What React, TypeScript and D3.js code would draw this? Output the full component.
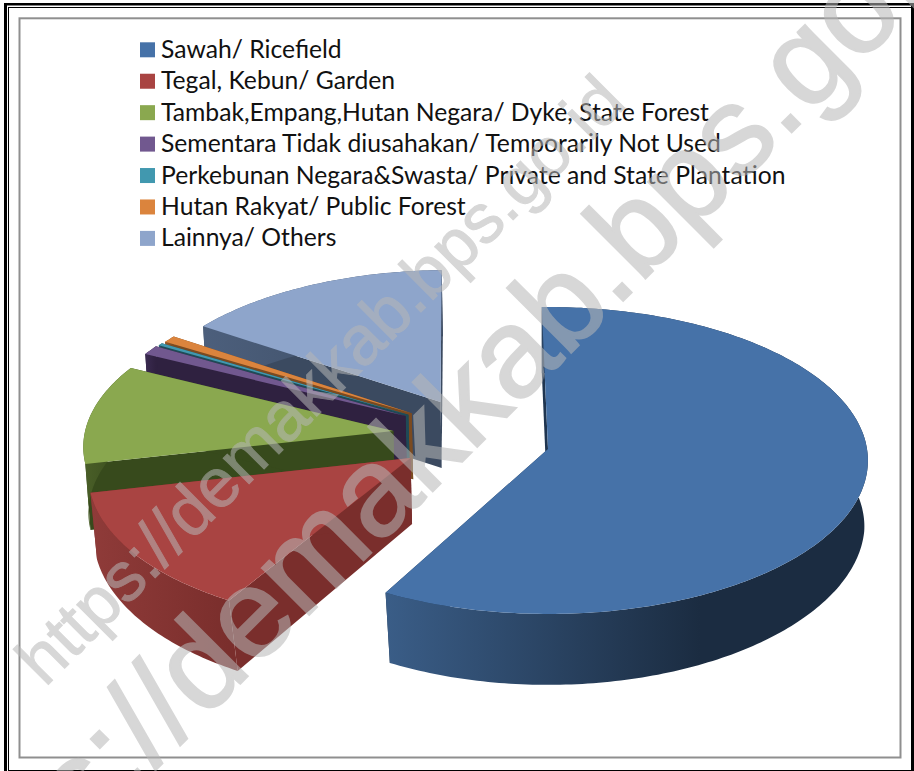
import React from "react";
import * as d3 from "d3";

const categories = [
  "Sawah/ Ricefield",
  "Tegal, Kebun/ Garden",
  "Tambak,Empang,Hutan Negara/ Dyke, State Forest",
  "Sementara Tidak diusahakan/ Temporarily Not Used",
  "Perkebunan Negara&Swasta/ Private and State Plantation",
  "Hutan Rakyat/ Public Forest",
  "Lainnya/ Others",
];
const shares = [58.2, 13.55, 10.9, 1.03, 0.28, 0.75, 15.25];

const topColors = ["#4672a8", "#a94442", "#8aa84f", "#71588f", "#4198af", "#db843d", "#8ea5cb"];
const cutColors = ["#1f3550", "#7a2e2c", "#374a1c", "#2f2140", "#1f4a56", "#7a4a20", "#3b4a60"];
const wallFrom = ["#3a5d87", "#8f3b39", "#4a5f28", "#3a2a50", "#2a5f6e", "#96582a", "#4c5f7c"];
const wallTo = ["#1b2c41", "#7a2e2c", "#374a1c", "#2f2140", "#1f4a56", "#7a4a20", "#3b4a60"];

// layout: displacement of each exploded slice on the disc plane, its radius and a small angular nudge
const offsetU = [0, -0.429, -0.489, -0.454, -0.445, -0.435, -0.345];
const offsetV = [0, 0.0587, -0.119, -0.22, -0.228, -0.238, -0.315];
const radii = [1, 1, 0.975, 0.972, 0.972, 0.972, 0.97];
const startNudge = [0, 0.03, 0, 0, 0, 0, 0];
const START_ANGLE = -0.021;

const W = 914, H = 771;
const CX = 548, CY = 449, A = 152.6, B = 319, P = 0.0749, DEPTH = 66;

type Pt = [number, number];
const project = (u: number, v: number): Pt => {
  const w = 1 - P * v;
  return [CX + (B * u) / w, CY + (A * v) / w];
};
const extrude = ([x, y]: Pt): Pt => [
  x + (CX - x) * (0.011 + Math.max(0, y - 465) * 0.00012),
  y + DEPTH + Math.max(0, y - 465) * 0.033,
];
const lineGen = d3.line<Pt>().x((d) => d[0]).y((d) => d[1]);
const closed = (pts: Pt[]) => lineGen(pts) + "Z";

const arcs = d3
  .pie<number>()
  .sort(null)
  .value((d) => d)
  .startAngle(START_ANGLE)
  .endAngle(START_ANGLE + 2 * Math.PI)(shares);

const legendY = d3.scaleLinear().domain([0, categories.length - 1]).range([49.8, 238.4]);

const slices = arcs.map((a, i) => {
  const apex = project(offsetU[i], offsetV[i]);
  const a0 = a.startAngle + startNudge[i];
  const steps = Math.max(4, Math.ceil((a.endAngle - a0) * 60));
  const rim: Pt[] = d3.range(steps + 1).map((k) => {
    const t = a0 + ((a.endAngle - a0) * k) / steps;
    return project(offsetU[i] + radii[i] * Math.sin(t), offsetV[i] - radii[i] * Math.cos(t));
  });
  const first = rim[0];
  const last = rim[rim.length - 1];
  return {
    i,
    top: closed([apex, ...rim]),
    outer: closed([...rim, ...rim.slice().reverse().map(extrude)]),
    cutA: closed([apex, first, extrude(first), extrude(apex)]),
    cutB: closed([apex, last, extrude(last), extrude(apex)]),
    xExtent: d3.extent(rim, (d) => d[0]) as [number, number],
  };
});
// back to front
const drawOrder = [6, 5, 4, 3, 2, 1, 0];

const watermarkColor = "#b7b7b7";

export default function App() {
  return (
    <svg
      width={W}
      height={H}
      viewBox={`0 0 ${W} ${H}`}
      style={{ position: "absolute", left: 0, top: 0, display: "block", background: "#fff" }}
    >
      <defs>
        {slices.map((s) => (
          <linearGradient
            key={s.i}
            id={`wall${s.i}`}
            gradientUnits="userSpaceOnUse"
            x1={s.i === 0 ? 387 : s.xExtent[0]}
            x2={s.i === 0 ? 700 : s.xExtent[1]}
            y1={0}
            y2={0}
          >
            <stop offset="0" stopColor={wallFrom[s.i]} />
            <stop offset="1" stopColor={wallTo[s.i]} />
          </linearGradient>
        ))}
      </defs>
      <rect x={0} y={0} width={W} height={H} fill="#fff" />

      {/* document border */}
      <g fill="#000">
        <rect x={4} y={3} width={910} height={2.5} />
        <rect x={4} y={3} width={3} height={768} />
        <rect x={8} y={7} width={906} height={1} />
        <rect x={8} y={7} width={1} height={764} />
        <rect x={8} y={770} width={906} height={1} />
        <rect x={911} y={3} width={3} height={768} />
      </g>
      <rect x={19.5} y={18.3} width={881} height={739.2} fill="none" stroke="#8f8f8f" strokeWidth={2} />

      {drawOrder.map((i) => {
        const s = slices[i];
        return (
          <g key={i}>
            <path d={s.cutA} fill={cutColors[i]} />
            <path d={s.cutB} fill={cutColors[i]} />
            <path d={s.outer} fill={`url(#wall${i})`} />
            <path d={s.top} fill={topColors[i]} />
          </g>
        );
      })}

      <g fontFamily="Lato, 'Open Sans', sans-serif" fontSize={24.7} fill="#111">
        {categories.map((c, i) => (
          <g key={c}>
            <rect x={140} y={legendY(i) - 7.5} width={15} height={15} fill={topColors[i]} />
            <text x={161} y={legendY(i) + 8}>{c}</text>
          </g>
        ))}
      </g>

      <g fontFamily="'Liberation Sans', Arial, sans-serif" fill={watermarkColor} stroke={watermarkColor}>
        <text x={45} y={688} fontSize={69} strokeWidth={1} opacity={0.55} transform="rotate(-45 45 688)">
          https://demakkab.bps.go.id
        </text>
        <text x={-63.5} y={987.5} fontSize={126} strokeWidth={2} opacity={0.55} transform="rotate(-45 -63.5 987.5)">
          https://demakkab.bps.go.id
        </text>
      </g>
    </svg>
  );
}
